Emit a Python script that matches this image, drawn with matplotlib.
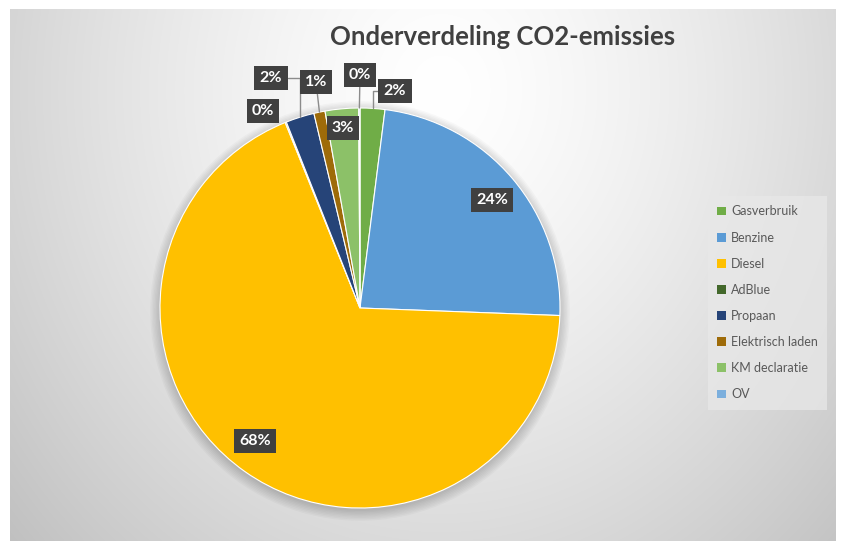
import numpy as np
import matplotlib
matplotlib.use('Agg')
import matplotlib.pyplot as plt
from matplotlib.patches import Patch, Circle

# data
categories = ['Gasverbruik', 'Benzine', 'Diesel', 'AdBlue', 'Propaan',
              'Elektrisch laden', 'KM declaratie', 'OV']
shares = [2.0, 23.6, 68.3, 0.1, 2.3, 0.9, 2.7, 0.1]
pct_labels = ['2%', '24%', '68%', '0%', '2%', '1%', '3%', '0%']
colors = ['#70AD47', '#5B9BD5', '#FFC000', '#43682B', '#264478',
          '#9E6B09', '#8CC168', '#7CAFDD']

# label positions (data units, pie radius = 1) and leader style
label_pos = [(0.175, 1.085), (0.66, 0.54), (-0.525, -0.665), (-0.485, 0.985),
             (-0.445, 1.15), (-0.22, 1.13), (-0.085, 0.9), (0.0, 1.165)]
leader = ['angle', None, None, None, 'angle', 'straight', None, 'straight']

W, H = 842, 547
fig = plt.figure(figsize=(W / 100, H / 100), dpi=100, facecolor='white')

# gradient background of the chart area
x0, x1, y0, y1 = 10, 835, 9, 541
bg = fig.add_axes([x0 / W, 1 - y1 / H, (x1 - x0) / W, (y1 - y0) / H])
gx, gy = np.meshgrid(np.arange(x0, x1), np.arange(y0, y1))
d = np.sqrt(((gx - 440) / 450.0) ** 2 + ((gy - 90) / 520.0) ** 2)
val = np.clip(255 - 44 * d ** 1.4, 192, 255) / 255.0
bg.imshow(np.dstack([val, val, val]), aspect='auto', interpolation='bilinear')
bg.set_axis_off()

# pie axes: centre (360, 308) px, radius 200 px
cx, cy, r = 360, 308, 200
ax = fig.add_axes([(cx - r) / W, 1 - (cy + r) / H, 2 * r / W, 2 * r / H])
ax.set_facecolor('none')

# soft shadow
for i in range(8):
    ax.add_patch(Circle((0.0, -0.015), 1.0 + 0.007 * i, color='black',
                        alpha=0.025, lw=0, zorder=0, clip_on=False))

wedges, _ = ax.pie(shares, colors=colors, startangle=90, counterclock=False,
                   wedgeprops=dict(edgecolor='white', linewidth=0.8), radius=1.0)
ax.set_xlim(-1, 1)
ax.set_ylim(-1, 1)
ax.set_aspect('auto')
for w in wedges:
    w.set_clip_on(False)

for w, lab, pos, ld in zip(wedges, pct_labels, label_pos, leader):
    ang = np.deg2rad((w.theta1 + w.theta2) / 2)
    pt = (np.cos(ang), np.sin(ang))
    box = dict(boxstyle='square,pad=0.33', fc='#404040', ec='none')
    if ld is None:
        ax.text(pos[0], pos[1], lab, ha='center', va='center', color='white',
                fontsize=11.5, fontweight='bold', family='Lato', bbox=box,
                zorder=5)
    else:
        cs = 'angle,angleA=0,angleB=90,rad=0' if ld == 'angle' else 'arc3'
        ax.annotate(lab, xy=pt, xytext=pos, ha='center', va='center',
                    color='white', fontsize=11.5, fontweight='bold',
                    family='Lato', bbox=box, zorder=5,
                    arrowprops=dict(arrowstyle='-', color='#8c8c8c', lw=1,
                                    connectionstyle=cs, shrinkA=0, shrinkB=0))

fig.text(503 / W, 1 - 37 / H, 'Onderverdeling CO2-emissies', ha='center',
         va='center', fontsize=18.5, fontweight='bold', color='#404040',
         family='Lato')

handles = [Patch(facecolor=c, edgecolor='none') for c in colors]
leg = fig.legend(handles, categories, loc='upper left',
                 bbox_to_anchor=(708 / W, 1 - 196 / H), frameon=True,
                 fancybox=False, handlelength=0.7, handleheight=0.7,
                 handletextpad=0.4, labelspacing=1.13, borderpad=0.75,
                 borderaxespad=0, prop={'family': 'Lato', 'size': 9})
leg.get_frame().set_facecolor('#e8e8e8')
leg.get_frame().set_edgecolor('none')
leg.get_frame().set_alpha(0.75)
for t in leg.get_texts():
    t.set_color('#595959')

fig.savefig('out.png', dpi=100, facecolor='white')
